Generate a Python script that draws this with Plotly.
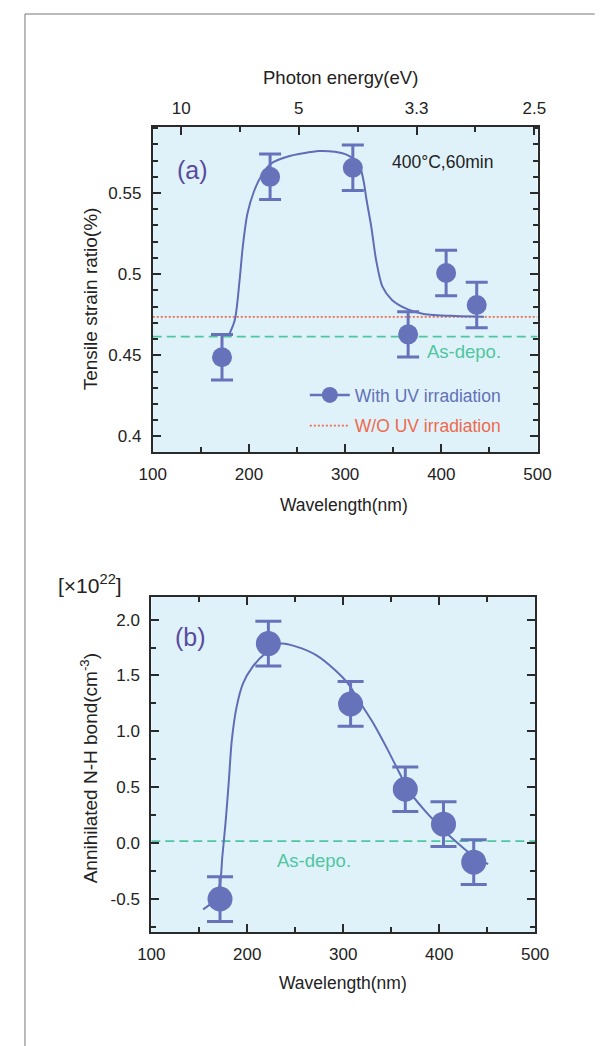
import plotly.graph_objects as go

W, H = 603, 1046

# ---------------- data : panel (a) ----------------
wl_a = [172, 222, 308, 365.5, 405, 436.8]
strain_a = [0.4488, 0.5600, 0.5656, 0.4629, 0.5007, 0.4810]
strain_err_a = [0.014, 0.014, 0.014, 0.014, 0.014, 0.014]
fit_wl_a = [178.7, 185.3, 190.3, 193.6, 198.5, 205.1, 213.4, 223.3, 239.8, 256.3,
            272.8, 289.3, 302.5, 314.0, 319.0, 322.3, 327.2, 332.2, 338.8, 348.7,
            365.2, 381.7, 414.7, 444.3]
fit_strain_a = [0.4619, 0.4718, 0.4964, 0.5169, 0.5375, 0.5508, 0.5611, 0.5683, 0.5724, 0.5745,
                0.5759, 0.5754, 0.5734, 0.5683, 0.5580, 0.5457, 0.5292, 0.5087, 0.4923, 0.4841,
                0.4783, 0.4755, 0.4742, 0.4738]
asdepo_a = 0.4615
wo_uv_a = 0.4737

# ---------------- data : panel (b) ----------------
wl_b = [171.6, 222, 307.7, 364.7, 404.5, 436]
nh_b = [-0.50, 1.785, 1.245, 0.482, 0.170, -0.170]
nh_err_b = [0.20, 0.20, 0.20, 0.20, 0.20, 0.20]
fit_wl_b = [154.0, 165.7, 171.6, 174.0, 177.3, 180.6, 183.9, 188.9, 195.5, 205.5,
            218.7, 235.3, 251.9, 271.8, 291.7, 305.0, 318.2, 331.5, 344.8, 358.0,
            368.0, 384.6, 404.5, 417.7, 434.3, 451.0]
fit_nh_b = [-0.593, -0.510, -0.361, -0.122, 0.176, 0.534, 0.921, 1.219, 1.428, 1.577,
            1.696, 1.786, 1.756, 1.682, 1.547, 1.428, 1.250, 1.071, 0.861, 0.638,
            0.474, 0.295, 0.116, 0.012, -0.107, -0.188]
asdepo_b = 0.018

# ---------------- axes data ----------------
x_range = [100, 500]
x_tickvals = [100, 200, 300, 400, 500]
x_ticktext = ["100", "200", "300", "400", "500"]
x_minor = [150, 250, 350, 450]
energy_tickvals = [129.5, 251.9, 374.3, 496.7]
energy_ticktext = ["10", "5", "3.3", "2.5"]
energy_minor = [190.7, 313.1, 435.5]
ya_range = [0.3904, 0.5907]
ya_tickvals = [0.4, 0.45, 0.5, 0.55]
ya_ticktext = ["0.4", "0.45", "0.5", "0.55"]
yb_range = [-0.795, 2.202]
yb_tickvals = [-0.5, 0.0, 0.5, 1.0, 1.5, 2.0]
yb_ticktext = ["-0.5", "0.0", "0.5", "1.0", "1.5", "2.0"]

# ---------------- styles ----------------
FONT = "Liberation Sans, Arial, Helvetica, sans-serif"
BLUE = "#6673bb"
BLUE_LINE = "#5f6db7"
BLUE_TXT = "#6270b8"
RED = "#ee6a4d"
GREEN = "#4fc6a0"
PURPLE = "#5a4a9e"
AX = "#2a2a2a"
TXT = "#222"
BG = "#dff2fa"


def px(x):
    return x / W


def py(y):
    return 1 - y / H


fig = go.Figure()

# panel (a)
fig.add_trace(go.Scatter(x=x_range, y=[asdepo_a, asdepo_a], mode="lines",
                         line=dict(color=GREEN, width=1.6, dash="9px,5px"),
                         xaxis="x", yaxis="y", showlegend=False, hoverinfo="skip"))
fig.add_trace(go.Scatter(x=x_range, y=[wo_uv_a, wo_uv_a], mode="lines",
                         line=dict(color=RED, width=1.8, dash="2px,2px"),
                         xaxis="x", yaxis="y", name="W/O UV irradiation",
                         legend="legend2", showlegend=True, hoverinfo="skip"))
fig.add_trace(go.Scatter(x=fit_wl_a, y=fit_strain_a, mode="lines",
                         line=dict(color=BLUE_LINE, width=2, shape="spline", smoothing=0.8),
                         xaxis="x", yaxis="y", showlegend=False, hoverinfo="skip"))
fig.add_trace(go.Scatter(x=wl_a, y=strain_a, mode="markers",
                         marker=dict(size=20, color=BLUE),
                         error_y=dict(type="data", array=strain_err_a, thickness=3,
                                      width=11, color=BLUE),
                         xaxis="x", yaxis="y", showlegend=False))
fig.add_trace(go.Scatter(x=[None], y=[None], mode="lines+markers",
                         marker=dict(size=17, color=BLUE), line=dict(color=BLUE, width=2.5),
                         xaxis="x", yaxis="y", name="With UV irradiation",
                         legend="legend", showlegend=True))
# empty trace that activates the top photon-energy axis
fig.add_trace(go.Scatter(x=[None], y=[None], xaxis="x3", yaxis="y",
                         showlegend=False, hoverinfo="skip"))

# panel (b)
fig.add_trace(go.Scatter(x=x_range, y=[asdepo_b, asdepo_b], mode="lines",
                         line=dict(color=GREEN, width=1.6, dash="9px,5px"),
                         xaxis="x2", yaxis="y2", showlegend=False, hoverinfo="skip"))
fig.add_trace(go.Scatter(x=fit_wl_b, y=fit_nh_b, mode="lines",
                         line=dict(color=BLUE_LINE, width=2, shape="spline", smoothing=0.8),
                         xaxis="x2", yaxis="y2", showlegend=False, hoverinfo="skip"))
fig.add_trace(go.Scatter(x=wl_b, y=nh_b, mode="markers",
                         marker=dict(size=25, color=BLUE),
                         error_y=dict(type="data", array=nh_err_b, thickness=3,
                                      width=13, color=BLUE),
                         xaxis="x2", yaxis="y2", showlegend=False))

tickfont = dict(family=FONT, size=17, color=TXT)
common_x = dict(range=x_range, tickmode="array", tickvals=x_tickvals, ticktext=x_ticktext,
                ticks="inside", ticklen=8, tickwidth=1.5, tickcolor=AX,
                showline=True, linecolor=AX, linewidth=2, showgrid=False, zeroline=False,
                tickfont=tickfont, ticklabelstandoff=6,
                minor=dict(tickmode="array", tickvals=x_minor, ticks="inside", ticklen=5,
                           tickwidth=1.5, tickcolor=AX, showgrid=False))

fig.update_layout(
    width=W, height=H,
    margin=dict(l=0, r=0, t=0, b=0),
    paper_bgcolor="white", plot_bgcolor=BG,
    font=dict(family=FONT, size=17, color=TXT),
    xaxis=dict(domain=[px(145.5), px(549)], anchor="y", mirror=False, **common_x),
    xaxis3=dict(overlaying="x", side="top", anchor="y", range=x_range,
                tickmode="array", tickvals=energy_tickvals, ticktext=energy_ticktext,
                ticks="inside", ticklen=8, tickwidth=1.5, tickcolor=AX,
                showline=True, linecolor=AX, linewidth=2, showgrid=False, zeroline=False,
                tickfont=tickfont, ticklabelstandoff=4,
                minor=dict(tickmode="array", tickvals=energy_minor, ticks="inside", ticklen=5,
                           tickwidth=1.5, tickcolor=AX, showgrid=False)),
    yaxis=dict(domain=[py(452), py(127)], anchor="x", range=ya_range,
               tickmode="array", tickvals=ya_tickvals, ticktext=ya_ticktext,
               ticks="inside", ticklen=8, tickwidth=1.5, tickcolor=AX, mirror="ticks",
               showline=True, linecolor=AX, linewidth=2, showgrid=False, zeroline=False,
               tickfont=tickfont, ticklabelstandoff=6,
               minor=dict(dtick=0.01, tick0=0.4, ticks="inside", ticklen=5,
                          tickwidth=1.5, tickcolor=AX, showgrid=False)),
    xaxis2=dict(domain=[px(144), px(546.5)], anchor="y2", mirror="ticks", **common_x),
    yaxis2=dict(domain=[py(932), py(597)], anchor="x2", range=yb_range,
                tickmode="array", tickvals=yb_tickvals, ticktext=yb_ticktext,
                ticks="inside", ticklen=8, tickwidth=1.5, tickcolor=AX, mirror="ticks",
                showline=True, linecolor=AX, linewidth=2, showgrid=False, zeroline=False,
                tickfont=tickfont, ticklabelstandoff=6,
                minor=dict(dtick=0.25, tick0=0, ticks="inside", ticklen=5,
                           tickwidth=1.5, tickcolor=AX, showgrid=False)),
    legend=dict(x=px(305), y=py(395), xanchor="left", yanchor="middle",
                bgcolor="rgba(0,0,0,0)", borderwidth=0, itemwidth=40,
                font=dict(family=FONT, size=17.5, color=BLUE_TXT)),
    legend2=dict(x=px(305), y=py(425.7), xanchor="left", yanchor="middle",
                 bgcolor="rgba(0,0,0,0)", borderwidth=0, itemwidth=40,
                 font=dict(family=FONT, size=17.5, color=RED)),
    showlegend=True,
)

ann = [
    dict(text="Photon energy(eV)", x=px(342), y=py(77.5), size=18.5),
    dict(text="Wavelength(nm)", x=px(346), y=py(505), size=17.5),
    dict(text="Wavelength(nm)", x=px(345), y=py(983), size=17.5),
    dict(text="Tensile strain ratio(%)", x=px(80), y=py(299), textangle=-90, size=19),
    dict(text="Annihilated N-H bond(cm<sup>-3</sup>)", x=px(79), y=py(768), textangle=-90, size=19),
    dict(text="[×10<sup>22</sup>]", x=px(80), y=py(584), size=21),
    dict(text="400°C,60min", x=px(449), y=py(162.3), size=17.5),
    dict(text="(a)", x=px(187), y=py(170), size=25, color=PURPLE),
    dict(text="(b)", x=px(185), y=py(636.7), size=25, color=PURPLE),
    dict(text="As-depo.", x=px(472), y=py(351.7), size=18.5, color=GREEN),
    dict(text="As-depo.", x=px(315), y=py(860.7), size=18.5, color=GREEN),
]
for a in ann:
    size = a.pop("size")
    color = a.pop("color", TXT)
    fig.add_annotation(xref="paper", yref="paper", showarrow=False,
                       xanchor="center", yanchor="middle",
                       font=dict(family=FONT, size=size, color=color), **a)

# outer frame (top and left edges visible)
fig.add_shape(type="line", xref="paper", yref="paper", x0=px(11.5), x1=1.01, y0=py(14), y1=py(14),
              line=dict(color="#777", width=1))
fig.add_shape(type="line", xref="paper", yref="paper", x0=px(11.5), x1=px(11.5), y0=py(14), y1=-0.01,
              line=dict(color="#777", width=1))

fig.write_html("out.html")
